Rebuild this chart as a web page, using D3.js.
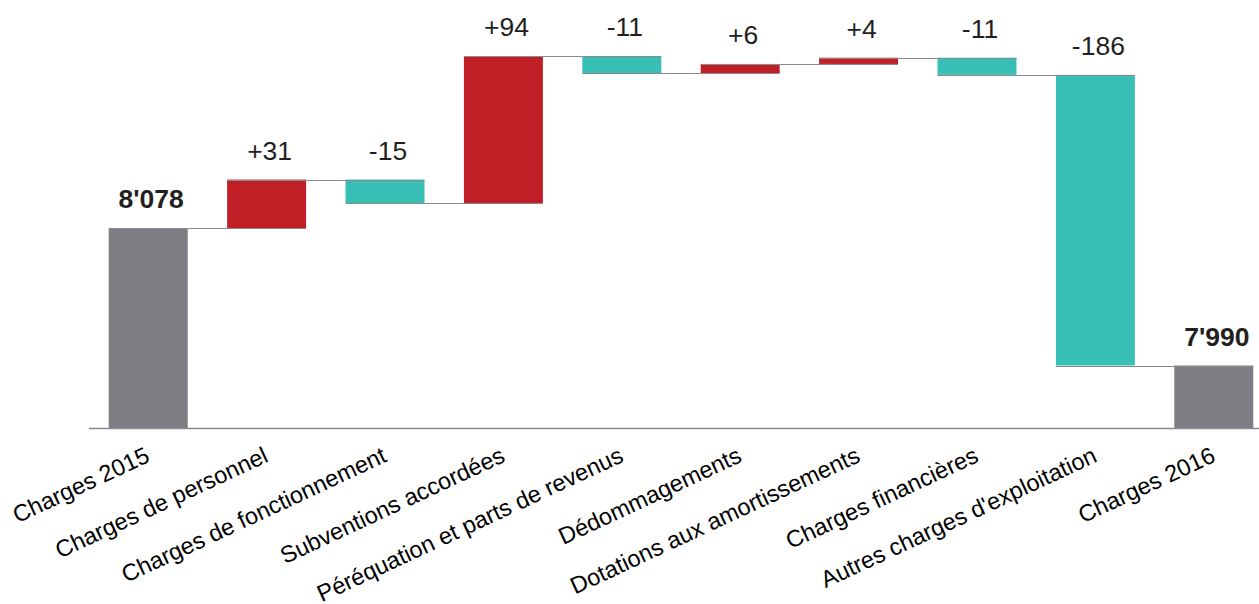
<!doctype html>
<html>
<head>
<meta charset="utf-8">
<title>Waterfall</title>
<style>
body { margin: 0; background: #fff; }
text { font-family: Arial, "Liberation Sans", sans-serif; }
</style>
<script src="https://cdn.jsdelivr.net/npm/d3@7"></script>
</head>
<body>
<script>
var categories = ["Charges 2015", "Charges de personnel", "Charges de fonctionnement",
    "Subventions accordées", "Péréquation et parts de revenus", "Dédommagements",
    "Dotations aux amortissements", "Charges financières",
    "Autres charges d'exploitation", "Charges 2016"];
var startValue = 8078;
var deltas = [31, -15, 94, -11, 6, 4, -11, -186];
var endValue = 7990;
var totalLabels = ["8'078", "7'990"];

var w = 1259, h = 604;

// build waterfall steps
var steps = [];
steps.push({ cat: categories[0], y0: 7950, y1: startValue, kind: "total", label: totalLabels[0] });
var run = startValue;
deltas.forEach(function(d, i) {
    steps.push({ cat: categories[i + 1], y0: run, y1: run + d, kind: d >= 0 ? "up" : "down",
        label: (d > 0 ? "+" : "") + d });
    run += d;
});
steps.push({ cat: categories[9], y0: 7950, y1: endValue, kind: "total", label: totalLabels[1] });

var svg = d3.select("body").append("svg")
    .attr("width", w)
    .attr("height", h);

var x = d3.scaleBand()
    .domain(categories)
    .range([89, 1273])
    .paddingInner(0.333)
    .paddingOuter(0.1667);

var y = d3.scaleLinear()
    .domain([7950, 8206])
    .range([428, 28]);

var color = { total: "#7d7e83", up: "#c01f26", down: "#38bfb5" };

svg.selectAll("rect.bar")
    .data(steps)
    .enter().append("rect")
    .attr("class", "bar")
    .attr("x", function(d) { return x(d.cat); })
    .attr("width", x.bandwidth())
    .attr("y", function(d) { return y(Math.max(d.y0, d.y1)); })
    .attr("height", function(d) { return Math.abs(y(d.y0) - y(d.y1)); })
    .attr("fill", function(d) { return color[d.kind]; });

// connectors: level after step i, from bar i left to bar i+1 right
svg.selectAll("line.conn")
    .data(steps.slice(0, -1))
    .enter().append("line")
    .attr("class", "conn")
    .attr("x1", function(d) { return x(d.cat); })
    .attr("x2", function(d, i) { return x(steps[i + 1].cat) + x.bandwidth(); })
    .attr("y1", function(d) { return Math.round(y(d.y1)) + 0.5; })
    .attr("y2", function(d) { return Math.round(y(d.y1)) + 0.5; })
    .attr("stroke", "#8a8a8e")
    .attr("stroke-width", 1.2);

// axis line
svg.append("line")
    .attr("x1", 89).attr("x2", w)
    .attr("y1", y(7950) + 0.5).attr("y2", y(7950) + 0.5)
    .attr("stroke", "#8a8a8e")
    .attr("stroke-width", 1.5);

// value labels
svg.selectAll("text.val")
    .data(steps)
    .enter().append("text")
    .attr("class", "val")
    .attr("x", function(d) { return x(d.cat) + x.bandwidth() / 2 + 3; })
    .attr("y", function(d) { return y(Math.max(d.y0, d.y1)) - 20; })
    .attr("text-anchor", "middle")
    .attr("font-size", 26.5)
    .attr("font-weight", function(d) { return d.kind == "total" ? "bold" : "normal"; })
    .attr("fill", "#231f20")
    .text(function(d) { return d.label; });

// category labels
svg.selectAll("text.cat")
    .data(categories)
    .enter().append("text")
    .attr("class", "cat")
    .attr("transform", function(d) {
        return "translate(" + (x(d) + x.bandwidth() / 2 + 3) + ",461)rotate(-25)";
    })
    .attr("text-anchor", "end")
    .attr("font-size", 23.5)
    .attr("fill", "#000")
    .text(function(d) { return d; });
</script>
</body>
</html>
